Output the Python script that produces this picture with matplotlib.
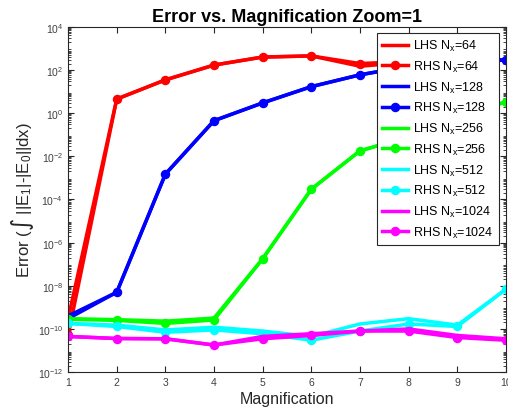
import numpy as np
import matplotlib.pyplot as plt
from matplotlib.ticker import LogLocator, NullFormatter

plt.rcParams['font.family'] = ['Liberation Sans', 'DejaVu Sans']
plt.rcParams['mathtext.default'] = 'regular'

mag = [1, 2, 3, 4, 5, 6, 7, 8, 9, 10]
grids = [64, 128, 256, 512, 1024]
colors = ['#ff0000', '#0000ff', '#00ff00', '#00ffff', '#ff00ff']

# integrated error, left- and right-hand side, per grid size
lhs = {
    64:   [3e-10, 4.5, 35, 170, 400, 450, 150, 230, 260, 300],
    128:  [4e-10, 5e-9, 1.5e-3, 0.45, 3, 17, 60, 150, 240, 300],
    256:  [3e-10, 2.7e-10, 2.3e-10, 3.2e-10, 1.8e-7, 3e-4, 1.8e-2, 0.08, 0.6, 3.4],
    512:  [1.8e-10, 1.5e-10, 9e-11, 1.2e-10, 8e-11, 4.5e-11, 1.7e-10, 3e-10, 1.5e-10, 7e-9],
    1024: [4.5e-11, 3.6e-11, 3.5e-11, 1.8e-11, 4.5e-11, 6e-11, 8e-11, 1e-10, 5e-11, 3.5e-11],
}
rhs = {
    64:   [5e-11, 4.5, 35, 170, 400, 450, 200, 250, 270, 300],
    128:  [3e-10, 5e-9, 1.5e-3, 0.45, 3, 17, 60, 150, 240, 300],
    256:  [2.8e-10, 2.5e-10, 1.8e-10, 2.6e-10, 1.8e-7, 3e-4, 1.8e-2, 0.08, 0.6, 3.4],
    512:  [1.8e-10, 1.3e-10, 7e-11, 9e-11, 6e-11, 3e-11, 8e-11, 1.7e-10, 1.3e-10, 7e-9],
    1024: [4.5e-11, 3.6e-11, 3.5e-11, 1.8e-11, 3.5e-11, 5e-11, 8e-11, 8e-11, 4e-11, 3e-11],
}

fig = plt.figure(figsize=(5.08, 4.10), dpi=100)
ax = fig.add_axes([0.134, 0.090, 0.862, 0.842])

for n, c in zip(grids, colors):
    ax.plot(mag, lhs[n], color=c, lw=2.5, label='LHS N$_x$=%d' % n)
    ax.plot(mag, rhs[n], color=c, lw=2.5, marker='o', ms=5.8,
            label='RHS N$_x$=%d' % n)

ax.set_yscale('log')
ax.set_xlim(1, 10)
ax.set_ylim(1e-12, 1e4)
ax.set_xticks(mag)
ax.set_yticks([10.0**k for k in range(-12, 5, 2)])
ax.yaxis.set_minor_locator(LogLocator(base=10, subs=np.arange(2, 10), numticks=40))
ax.yaxis.set_minor_formatter(NullFormatter())
ax.tick_params(which='both', direction='in', top=True, right=True,
               labelsize=7.5, colors='#262626', labelcolor='#404040')
ax.tick_params(which='major', length=4.5)
ax.tick_params(which='minor', length=2)
for s in ax.spines.values():
    s.set_color('#262626')
    s.set_linewidth(0.8)

ax.set_title('Error vs. Magnification Zoom=1', fontsize=13, fontweight='bold', pad=4)
ax.set_xlabel('Magnification', fontsize=11.5, color='#262626', labelpad=3)
ax.set_ylabel('Error (∫ ||E$_1$|-|E$_0$||dx)', fontsize=12, color='#262626', labelpad=1)

leg = ax.legend(loc='upper right', fontsize=9, handlelength=2.1, labelspacing=0.45,
                fancybox=False, framealpha=1, edgecolor='#262626',
                bbox_to_anchor=(0.983, 0.982), borderaxespad=0.0, handletextpad=0.4)
leg.get_frame().set_linewidth(0.8)

fig.savefig('out.png', dpi=100)
